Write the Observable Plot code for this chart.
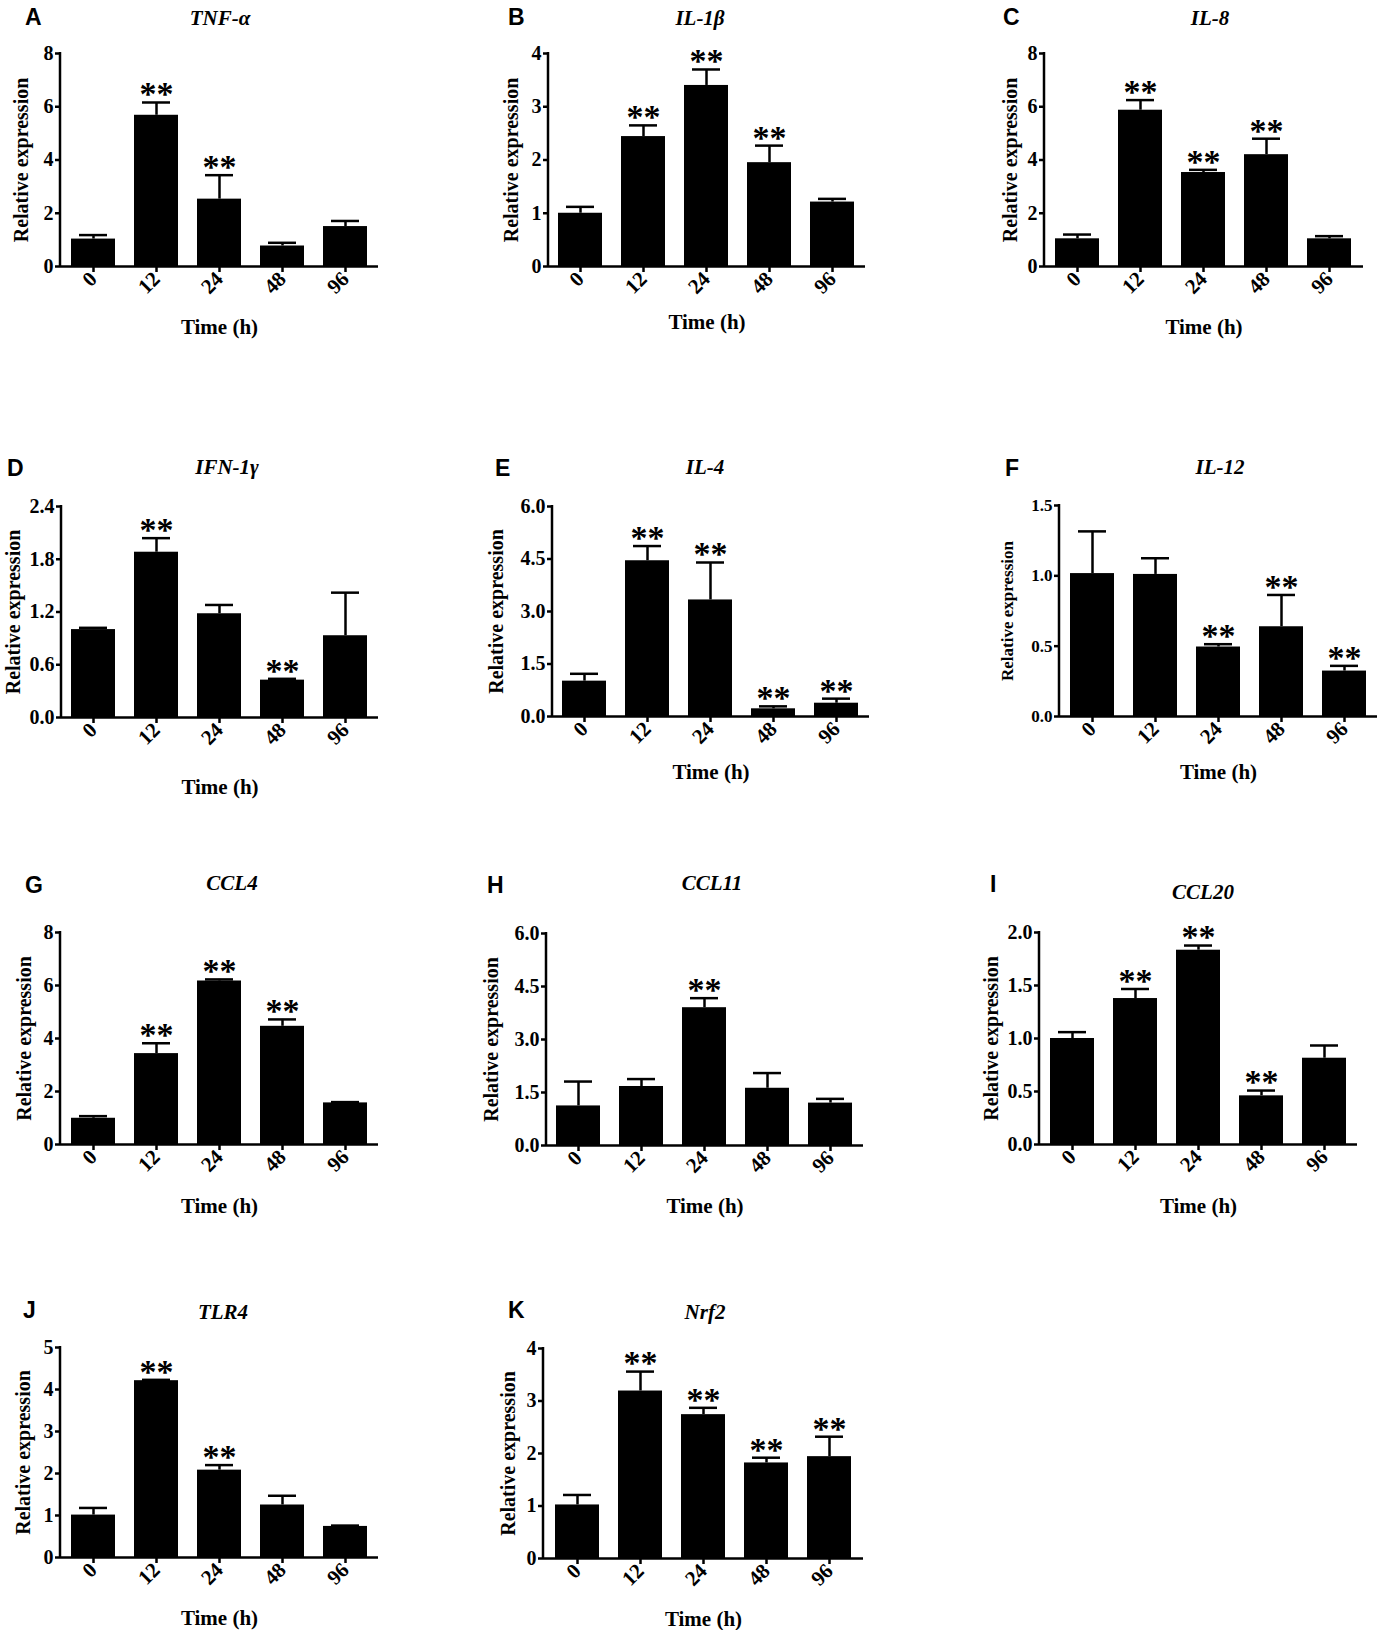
<!DOCTYPE html>
<html><head><meta charset="utf-8">
<script src="https://cdn.jsdelivr.net/npm/d3@7"></script>
<script src="https://cdn.jsdelivr.net/npm/@observablehq/plot@0.6"></script>
<style>
body{margin:0;background:#fff;}
#fig{position:relative;width:1378px;height:1630px;background:#fff;overflow:hidden;}
.panel{position:absolute;}
.letter{position:absolute;font-family:'Liberation Sans',Arial,sans-serif;font-weight:bold;font-size:23px;line-height:1;transform:translateY(-50%);}
.title{position:absolute;font-family:'Liberation Serif',serif;font-weight:bold;font-style:italic;font-size:21px;line-height:1;transform:translate(-50%,-50%);white-space:nowrap;}
</style></head><body><div id="fig"></div>
<script>
// ---- data ----
const times = ["0", "12", "24", "48", "96"];
const genes = ["TNF-α", "IL-1β", "IL-8", "IFN-1γ", "IL-4", "IL-12", "CCL4", "CCL11", "CCL20", "TLR4", "Nrf2"];
const letters = ["A", "B", "C", "D", "E", "F", "G", "H", "I", "J", "K"];

const tnfMean = [1.03, 5.68, 2.53, 0.77, 1.50];
const tnfSem  = [0.15, 0.48, 0.90, 0.12, 0.21];
const tnfSig  = [0, 1, 1, 0, 0];

const il1bMean = [1.00, 2.44, 3.40, 1.95, 1.21];
const il1bSem  = [0.12, 0.21, 0.30, 0.32, 0.06];
const il1bSig  = [0, 1, 1, 1, 0];

const il8Mean = [1.04, 5.87, 3.53, 4.20, 1.04];
const il8Sem  = [0.16, 0.38, 0.10, 0.60, 0.10];
const il8Sig  = [0, 1, 1, 1, 0];

const ifnMean = [1.00, 1.88, 1.18, 0.425, 0.93];
const ifnSem  = [0.02, 0.16, 0.10, 0.015, 0.49];
const ifnSig  = [0, 1, 0, 1, 0];

const il4Mean = [1.01, 4.45, 3.33, 0.22, 0.38];
const il4Sem  = [0.21, 0.42, 1.07, 0.07, 0.13];
const il4Sig  = [0, 1, 1, 1, 1];

const il12Mean = [1.016, 1.01, 0.494, 0.638, 0.323];
const il12Sem  = [0.30, 0.115, 0.02, 0.226, 0.037];
const il12Sig  = [0, 0, 1, 1, 1];

const ccl4Mean = [0.99, 3.43, 6.17, 4.46, 1.57];
const ccl4Sem  = [0.08, 0.39, 0.06, 0.26, 0.03];
const ccl4Sig  = [0, 1, 1, 1, 0];

const ccl11Mean = [1.12, 1.67, 3.90, 1.62, 1.20];
const ccl11Sem  = [0.69, 0.21, 0.27, 0.43, 0.12];
const ccl11Sig  = [0, 0, 1, 0, 0];

const ccl20Mean = [1.00, 1.377, 1.833, 0.459, 0.814];
const ccl20Sem  = [0.06, 0.09, 0.044, 0.05, 0.12];
const ccl20Sig  = [0, 1, 1, 1, 0];

const tlr4Mean = [1.01, 4.21, 2.08, 1.25, 0.74];
const tlr4Sem  = [0.17, 0.02, 0.12, 0.22, 0.02];
const tlr4Sig  = [0, 1, 1, 0, 0];

const nrf2Mean = [1.02, 3.19, 2.74, 1.82, 1.94];
const nrf2Sem  = [0.19, 0.37, 0.13, 0.10, 0.38];
const nrf2Sig  = [0, 1, 1, 1, 1];

const yTicks = [
  [0, 2, 4, 6, 8],
  [0, 1, 2, 3, 4],
  [0, 2, 4, 6, 8],
  [0, 0.6, 1.2, 1.8, 2.4],
  [0, 1.5, 3.0, 4.5, 6.0],
  [0, 0.5, 1.0, 1.5],
  [0, 2, 4, 6, 8],
  [0, 1.5, 3.0, 4.5, 6.0],
  [0, 0.5, 1.0, 1.5, 2.0],
  [0, 1, 2, 3, 4, 5],
  [0, 1, 2, 3, 4]
];
const yDecimals = [0, 0, 0, 1, 1, 1, 0, 1, 1, 0, 0];

const means = [tnfMean, il1bMean, il8Mean, ifnMean, il4Mean, il12Mean, ccl4Mean, ccl11Mean, ccl20Mean, tlr4Mean, nrf2Mean];
const sems  = [tnfSem, il1bSem, il8Sem, ifnSem, il4Sem, il12Sem, ccl4Sem, ccl11Sem, ccl20Sem, tlr4Sem, nrf2Sem];
const sigs  = [tnfSig, il1bSig, il8Sig, ifnSig, il4Sig, il12Sig, ccl4Sig, ccl11Sig, ccl20Sig, tlr4Sig, nrf2Sig];

// ---- layout (pixel positions of each panel frame) ----
const layout = [
  {ax: 60,   top: 53,   base: 266,  right: 378,  yl: 37, xl: 57, lx: 25,   ly: 17,   tx: 220,  ty: 18,   fs: 20},
  {ax: 548,  top: 53,   base: 266,  right: 865,  yl: 35, xl: 52, lx: 508,  ly: 17,   tx: 700,  ty: 18,   fs: 20},
  {ax: 1044, top: 53,   base: 266,  right: 1363, yl: 32, xl: 57, lx: 1003, ly: 17,   tx: 1210, ty: 18,   fs: 20},
  {ax: 61,   top: 506,  base: 717,  right: 378,  yl: 46, xl: 66, lx: 7,    ly: 468,  tx: 227,  ty: 467,  fs: 20},
  {ax: 552,  top: 506,  base: 716,  right: 869,  yl: 54, xl: 52, lx: 495,  ly: 468,  tx: 705,  ty: 467,  fs: 20},
  {ax: 1059, top: 505,  base: 716,  right: 1377, yl: 49, xl: 52, lx: 1005, ly: 468,  tx: 1220, ty: 467,  fs: 17},
  {ax: 60,   top: 932,  base: 1144, right: 378,  yl: 34, xl: 58, lx: 25,   ly: 885,  tx: 232,  ty: 883,  fs: 20},
  {ax: 546,  top: 933,  base: 1145, right: 863,  yl: 53, xl: 57, lx: 487,  ly: 885,  tx: 712,  ty: 883,  fs: 20},
  {ax: 1039, top: 932,  base: 1144, right: 1357, yl: 46, xl: 58, lx: 990,  ly: 884,  tx: 1203, ty: 892,  fs: 20},
  {ax: 60,   top: 1347, base: 1557, right: 378,  yl: 35, xl: 57, lx: 23,   ly: 1310, tx: 223,  ty: 1312, fs: 20},
  {ax: 543,  top: 1348, base: 1558, right: 863,  yl: 33, xl: 57, lx: 508,  ly: 1310, tx: 705,  ty: 1312, fs: 20}
];

const fig = document.getElementById("fig");
const mL = 80, mR = 14, mT = 40, mB = 90;

// vertical y-axis line along the left edge of the frame
const yAxisLine = (index, scales, values, dims) => {
  const g = d3.create("svg:line")
    .attr("x1", dims.marginLeft).attr("x2", dims.marginLeft)
    .attr("y1", dims.marginTop - 1).attr("y2", dims.height - dims.marginBottom)
    .attr("stroke", "black").attr("stroke-width", 2.5);
  return g.node();
};

genes.forEach((gene, i) => {
  const L = layout[i];
  const rows = times.map((t, j) => ({t, mean: means[i][j], top: means[i][j] + sems[i][j], sig: sigs[i][j]}));
  const ticks = yTicks[i];
  const yMax = ticks[ticks.length - 1];
  const W = L.right - L.ax, H = L.base - L.top;
  const plot = Plot.plot({
    width: W + mL + mR,
    height: H + mT + mB,
    marginLeft: mL, marginRight: mR, marginTop: mT, marginBottom: mB,
    style: {fontFamily: "'Liberation Serif', 'Times New Roman', serif", fontWeight: "bold", fontSize: L.fs + "px", background: "transparent", overflow: "visible", color: "black"},
    x: {domain: times, paddingInner: 0.3, paddingOuter: 0.16},
    y: {domain: [0, yMax]},
    marks: [
      Plot.ruleX(rows, {x: "t", y1: "mean", y2: "top", stroke: "black", strokeWidth: 2.5}),
      Plot.tickY(rows, {x: "t", y: "top", insetLeft: 8, insetRight: 8, stroke: "black", strokeWidth: 2.5}),
      Plot.barY(rows, {x: "t", y: "mean", fill: "black"}),
      Plot.text(rows.filter(d => d.sig), {x: "t", y: "top", text: () => "**", fontSize: 34, lineAnchor: "middle", dy: -8, fill: "black"}),
      Plot.ruleY([0], {stroke: "black", strokeWidth: 2.5}),
      yAxisLine,
      Plot.axisY({ticks, tickFormat: d3.format("." + yDecimals[i] + "f"), tickSize: 5, tickPadding: 2, strokeWidth: 2.5, fontSize: L.fs,
        label: "Relative expression", labelArrow: "none", labelAnchor: "center", labelOffset: L.yl + 10}),
      Plot.axisX({tickRotate: -45, tickSize: 6, tickPadding: 3, strokeWidth: 2.5, fontSize: 21,
        label: "Time (h)", labelArrow: "none", labelAnchor: "center", labelOffset: L.xl + 10})
    ]
  });
  plot.classList.add("panel");
  plot.style.left = (L.ax - mL) + "px";
  plot.style.top = (L.top - mT) + "px";
  fig.appendChild(plot);

  const let_ = document.createElement("div");
  let_.className = "letter";
  let_.textContent = letters[i];
  let_.style.left = L.lx + "px";
  let_.style.top = L.ly + "px";
  fig.appendChild(let_);

  const ti = document.createElement("div");
  ti.className = "title";
  ti.textContent = gene;
  ti.style.left = L.tx + "px";
  ti.style.top = L.ty + "px";
  fig.appendChild(ti);
});
</script></body></html>
